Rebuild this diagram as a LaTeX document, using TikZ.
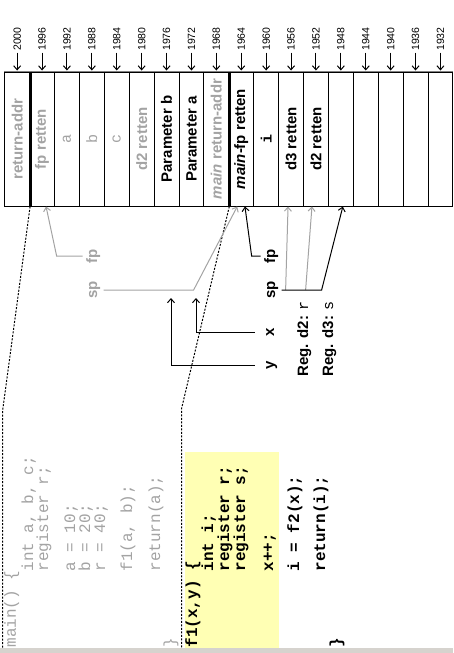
\documentclass[tikz,border=0pt]{standalone}
\usepackage{fontspec}
\setmainfont{Liberation Sans}
\setmonofont{Liberation Mono}
\usepackage{tikz}
\usetikzlibrary{arrows.meta,positioning}
\definecolor{oldgray}{RGB}{163,163,163}
\definecolor{codeyellow}{RGB}{255,255,180}
\definecolor{framegray}{RGB}{214,211,206}

\begin{document}
\begin{tikzpicture}[x=1pt,y=-1pt,line width=1pt,>={Straight Barb[length=4pt,width=7pt]},
  cell/.style={draw,rotate=90,minimum width=134pt,minimum height=24.9pt,inner sep=0pt,font=\fontsize{15}{17}\selectfont\bfseries},
  addr/.style={rotate=90,inner sep=1.5pt,font=\fontsize{10.5}{12}\selectfont},
  lbl/.style={rotate=90,anchor=base,inner sep=3pt,font=\fontsize{15}{17}\selectfont\bfseries},
  code/.style={rotate=90,anchor=base west,inner sep=0pt,font=\fontsize{16}{16}\selectfont\ttfamily},
  oldcode/.style={code,text=oldgray},
  newcode/.style={code,font=\fontsize{16}{16}\selectfont\ttfamily\bfseries},
  ptr/.style={->,line width=1pt},
  oldptr/.style={ptr,draw=oldgray},
  frameline/.style={dash pattern=on 2pt off 1.5pt}]
\useasboundingbox (0,0) rectangle (453,653);
\clip (0,0) rectangle (453,653);

% code of f1 on yellow
\fill[codeyellow] (185,452) rectangle (279,649);

% stack, one cell per word
\foreach \i/\col/\txt in {0/oldgray/return-addr, 1/oldgray/fp retten,
    2/oldgray/{\ttfamily\mdseries a}, 3/oldgray/{\ttfamily\mdseries b},
    4/oldgray/{\ttfamily\mdseries c}, 5/oldgray/d2 retten,
    6/black/Parameter b, 7/black/Parameter a,
    8/oldgray/{\textit{main} return-addr}, 9/black/{\textit{main}-fp retten},
    10/black/{\ttfamily i}, 11/black/d3 retten, 12/black/d2 retten,
    13/black/{}, 14/black/{}, 15/black/{}, 16/black/{}, 17/black/{}}
  \node[cell,text=\col] (r\i) at (17.15+24.9*\i,139) {\txt};
\draw[line width=1.5pt,black!50] (r0.north east) -- (r17.south east);
\draw[line width=3pt] (r0.south east) -- (r0.south west);
\draw[line width=3pt] (r8.south east) -- (r8.south west);

% addresses
\foreach \i in {0,...,17}{
  \pgfmathtruncatemacro{\adr}{2000-4*\i}
  \node[addr] (a\i) at (17.15+24.9*\i,39) {\adr};
  \draw[->,shorten >=1pt] (a\i) -- (r\i.east);
}

% frame borders
\coordinate (oldbend) at (2.7,410);
\coordinate (oldfoot) at (2.7,649);
\coordinate (newbend) at (181.7,408);
\coordinate (newfoot) at (181.7,649);
\draw[frameline] (r0.south west) -- (oldbend) -- (oldfoot);
\draw[frameline] (r8.south west) -- (newbend) -- (newfoot);

% main() in grey
\node[oldcode] (m1) at (16,648) {main() \{};
\node[oldcode] (m2) at (33,572) {int a, b, c;};
\node[oldcode] (m3) at (48,572) {register r;};
\node[oldcode] (m4) at (75,572) {a = 10;};
\node[oldcode] (m5) at (90,572) {b = 20;};
\node[oldcode] (m6) at (105,572) {r = 40;};
\node[oldcode] (m7) at (132,572) {f1(a, b);};
\node[oldcode] (m8) at (160,572) {return(a);};
\node[oldcode] (m9) at (175,648) {\}};

% f1()
\node[newcode] (f1) at (197,648) {f1(x,y) \{};
\node[newcode] (f2) at (213,572) {int i;};
\node[newcode] (f3) at (229,572) {register r;};
\node[newcode] (f4) at (245,572) {register s;};
\node[newcode] (f5) at (273,572) {x++;};
\node[newcode] (f6) at (299,572) {i = f2(x);};
\node[newcode] (f7) at (325,572) {return(i);};
\node[newcode] (f8) at (341,648) {\}};

% pointers
\node[lbl,text=oldgray] (spold) at (97,290) {sp};
\node[lbl,text=oldgray] (fpold) at (97,256) {fp};
\node[lbl] (spnew) at (275,290) {sp};
\node[lbl] (fpnew) at (275,256) {fp};
\node[lbl] (xlab) at (274,332) {x};
\node[lbl] (ylab) at (274,365) {y};
\node[lbl,anchor=base west,inner sep=0pt] (regd2) at (308,377) {Reg. d2: \texttt{\mdseries r}};
\node[lbl,anchor=base west,inner sep=0pt] (regd3) at (333,377) {Reg. d3: \texttt{\mdseries s}};
\coordinate (xtip) at (196,298);
\coordinate (ytip) at (171,298);

\draw[oldptr] (fpold.north) -- ++(-26,0) -- ([xshift=4pt]r1.west);
\draw[oldptr] (spold.south) -- ++(90,0) -- ([xshift=-4pt]r9.west);
\draw[oldptr] ([xshift=4pt]spnew.south) -- ([xshift=-3pt]r11.west);
\draw[oldptr] ([xshift=24pt]spnew.south) -- ([xshift=-4pt]r12.west);
\draw[ptr] (spnew.south) -- ++(40,0) -- ([xshift=2pt]r13.west);
\draw[ptr] (fpnew.north) -- ++(-9,0) -- ([xshift=3.7pt]r9.west);
\draw[ptr,shorten <=8pt] (xlab.north) -| (xtip);
\draw[ptr,shorten <=8pt] (ylab.north) -| (ytip);

\fill[framegray] (0,648) rectangle (453,653);
\end{tikzpicture}
\end{document}
